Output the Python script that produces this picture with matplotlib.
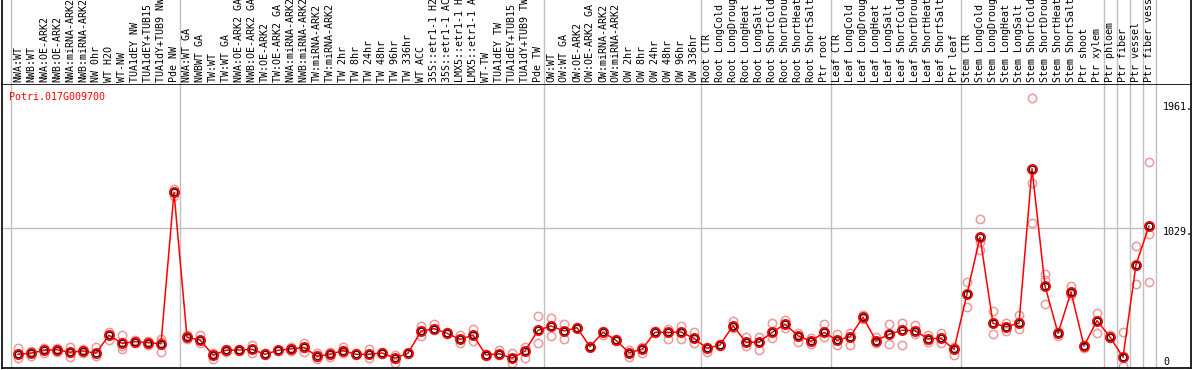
import numpy as np
import matplotlib
matplotlib.use("Agg")
import matplotlib.pyplot as plt

gene = "Potri.017G009700"

# sample names, one list per tissue block (separated by grey lines)
grp_nw = ["NWA:WT", "NWB:WT", "NWA:OE-ARK2", "NWB:OE-ARK2", "NWA:miRNA-ARK2",
          "NWB:miRNA-ARK2", "NW 0hr", "WT H2O", "WT-NW", "TUA1dEY NW",
          "TUA1dEY+TUB15 NW", "TUA1dY+TUB9 NW", "Pde NW"]
grp_tw = ["NWA:WT GA", "NWBWT GA", "TW:WT", "TW:WT GA", "NWA:OE-ARK2 GA",
          "NWB:OE-ARK2 GA", "TW:OE-ARK2", "TW:OE-ARK2 GA", "NWA:miRNA-ARK2 GA",
          "NWB:miRNA-ARK2 GA", "TW:miRNA-ARK2", "TW:miRNA-ARK2 GA", "TW 2hr",
          "TW 8hr", "TW 24hr", "TW 48hr", "TW 96hr", "TW 336hr", "WT ACC",
          "35S::etr1-1 H2O", "35S::etr1-1 ACC", "LMX5::etr1-1 H2O",
          "LMX5::etr1-1 ACC", "WT-TW", "TUA1dEY TW", "TUA1dEY+TUB15 TW",
          "TUA1dY+TUB9 TW", "Pde TW"]
grp_ow = ["OW:WT", "OW:WT GA", "OW:OE-ARK2", "OW:OE-ARK2 GA", "OW:miRNA-ARK2",
          "OW:miRNA-ARK2 GA", "OW 2hr", "OW 8hr", "OW 24hr", "OW 48hr",
          "OW 96hr", "OW 336hr"]
grp_root = ["Root CTR", "Root LongCold", "Root LongDrought", "Root LongHeat",
            "Root LongSalt", "Root ShortCold", "Root ShortDrought",
            "Root ShortHeat", "Root ShortSalt", "Ptr root"]
grp_leaf = ["Leaf CTR", "Leaf LongCold", "Leaf LongDrought", "Leaf LongHeat",
            "Leaf LongSalt", "Leaf ShortCold", "Leaf ShortDrought",
            "Leaf ShortHeat", "Leaf ShortSalt", "Ptr leaf"]
grp_stem = ["Stem CTR", "Stem LongCold", "Stem LongDrought", "Stem LongHeat",
            "Stem LongSalt", "Stem ShortCold", "Stem ShortDrought",
            "Stem ShortHeat", "Stem ShortSalt", "Ptr shoot", "Ptr xylem"]
grp_ptr = [["Ptr phloem"], ["Ptr fiber"], ["Ptr vessel"], ["Ptr fiber vessel"]]

groups = [grp_nw, grp_tw, grp_ow, grp_root, grp_leaf, grp_stem] + grp_ptr
labels = [s for g in groups for s in g]

# mean expression per sample
means = [87, 95, 117, 121, 102, 112, 95, 229, 169, 181, 174, 166, 1294,
         214, 194, 82, 117, 119, 124, 87, 117, 127, 138, 73, 87, 115, 87, 87,
         97, 58, 95, 259, 278, 244, 199, 229, 82, 92, 57, 112, 266,
         298, 261, 285, 144, 251, 192, 99, 124, 251, 251, 253, 206,
         132, 156, 300, 177, 177, 251, 311, 226, 184, 251,
         192, 218, 363, 189, 236, 266, 263, 203, 206, 124,
         537, 961, 318, 293, 318, 1470, 596, 244, 551, 149, 338,
         216, 65, 755, 1043]

# replicate values per sample
reps = [[132, 87, 57], [114, 95, 75], [132, 117, 99], [135, 121, 107],
        [139, 95, 69], [125, 112, 100], [139, 95, 77], [256, 229, 194],
        [231, 149, 124], [190, 181, 172], [189, 174, 156], [199, 181, 107],
        [1319, 1294, 1270],
        [231, 214, 199], [231, 194, 169], [95, 82, 50], [130, 117, 104],
        [125, 119, 113], [156, 124, 95], [95, 87, 80], [122, 117, 112],
        [144, 127, 112], [169, 136, 107], [95, 69, 50], [107, 87, 69],
        [144, 119, 95], [95, 87, 80], [124, 87, 57], [104, 97, 90],
        [82, 54, 25], [100, 95, 90], [300, 259, 224], [311, 278, 268],
        [250, 244, 238], [231, 199, 169], [276, 229, 189], [88, 82, 76],
        [119, 92, 80], [95, 57, 25], [144, 112, 62], [373, 266, 169],
        [355, 298, 226], [313, 261, 199], [290, 285, 280], [150, 144, 138],
        [263, 251, 231], [198, 192, 186], [119, 99, 69], [144, 124, 99],
        [258, 251, 244], [273, 251, 201], [298, 253, 201], [256, 206, 169],
        [144, 132, 107], [164, 156, 149], [338, 300, 281], [218, 177, 149],
        [218, 177, 119], [318, 251, 206], [343, 311, 285], [244, 226, 181],
        [206, 186, 162], [313, 251, 218],
        [236, 192, 156], [248, 218, 156], [380, 363, 348], [218, 189, 169],
        [311, 236, 162], [318, 268, 156], [305, 263, 236], [231, 203, 181],
        [244, 206, 169], [144, 124, 82],
        [624, 537, 437], [1093, 926, 864], [410, 318, 236], [318, 293, 263],
        [380, 318, 278], [1995, 1361, 1063], [686, 641, 460], [253, 244, 226],
        [596, 551, 527], [156, 149, 132], [393, 338, 244],
        [231, 216, 206], [251, 65, 0], [894, 755, 609],
        [1518, 1043, 981, 624]]

yticks = [0, 1029, 1961]
ytick_text = ["0", "1029.", "1961."]

mono = "DejaVu Sans Mono"
fs = 7.2
grey = "#c0c0c0"

W, H = 1194, 370
fig = plt.figure(figsize=(W / 100, H / 100), dpi=100)
ax = fig.add_axes([2 / W, 2 / H, 1189 / W, 284 / H])
lab = fig.add_axes([2 / W, 286 / H, 1189 / W, 84 / H])

x = np.arange(len(labels))
xlim = (-1.23, 90.23)

# block separators
bounds = np.cumsum([0] + [len(g) for g in groups]) - 0.5
for b in bounds:
    ax.axvline(b, color=grey, lw=1, zorder=1)
    lab.axvline(b, color=grey, lw=1, zorder=1)
ax.plot([xlim[0], bounds[-1]], [1029, 1029], color=grey, lw=1, zorder=1)

for i, r in enumerate(reps):
    ax.plot([i] * len(r), r, "o", ms=6, mfc="none", mec="#e99a9a", mew=1.1,
            zorder=2)
ax.plot(x, means, "-", color="red", lw=1.1, zorder=3)
ax.plot(x, means, "o", ms=6.6, mfc="none", mec="red", mew=1.3, zorder=4)
ax.plot(x, means, "o", ms=4.6, mfc="none", mec="black", mew=0.7, zorder=5)

ax.set_xlim(*xlim)
ax.set_ylim(-15, 2101)
ax.set_xticks([])
ax.set_yticks([])
for sp in ax.spines.values():
    sp.set_color("black")
    sp.set_linewidth(1.2)

offs = [4, -4.5, -4.5]
for v, t, o in zip(yticks, ytick_text, offs):
    ax.annotate(t, xy=(0.9765, v), xycoords=("axes fraction", "data"),
                xytext=(0, o), textcoords="offset pixels",
                ha="left", va="center", family=mono, fontsize=fs)

ax.text(0.0062, 0.954, gene, transform=ax.transAxes, color="red",
        family=mono, fontsize=fs, ha="left", va="center")

# sample labels above the plot
lab.set_xlim(*xlim)
lab.set_ylim(0, 84)
lab.set_xticks([])
lab.set_yticks([])
lab.spines["top"].set_visible(False)
lab.spines["bottom"].set_visible(False)
lab.spines["left"].set_linewidth(1.2)
lab.spines["right"].set_linewidth(1.2)
for i, s in enumerate(labels):
    lab.text(i, 1.5, s, rotation=90, ha="center", va="bottom",
             family=mono, fontsize=fs, clip_on=True)

fig.savefig("out.png", dpi=100)
